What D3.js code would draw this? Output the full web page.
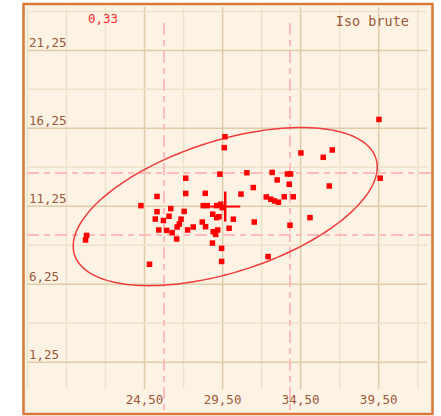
<!DOCTYPE html>
<html>
<head>
<meta charset="utf-8">
<script src="https://cdn.jsdelivr.net/npm/d3@7"></script>
<style>
  html, body { margin: 0; padding: 0; background: #ffffff; }
  svg { display: block; }
  .lbl text { font-family: "DejaVu Sans Mono", monospace; font-size: 12.5px; fill: #9a5a3a; }
</style>
</head>
<body>
<svg id="chart"></svg>
<script>
// scatter values (x, y)
const xs = [20.82, 20.75, 24.30, 24.85, 25.33, 25.33, 25.22, 25.74, 25.44, 26.21,
            26.10, 27.17, 27.17, 27.07, 26.87, 26.76, 26.62, 25.95, 26.30, 26.59,
            27.29, 27.65, 29.68, 29.64, 29.36, 31.09, 31.50, 28.42, 30.71, 28.29,
            28.55, 29.15, 29.41, 29.51, 28.90, 29.15, 29.30, 28.23, 28.44, 30.22,
            31.56, 29.95, 28.93, 29.22, 29.09, 28.88, 29.47, 29.47, 39.55, 34.55,
            36.56, 35.98, 32.71, 33.69, 33.89, 33.03, 33.80, 36.37, 39.63, 32.33,
            32.62, 32.86, 33.11, 33.48, 34.06, 35.13, 33.85, 32.45];
const ys = [9.35, 9.06, 11.26, 7.50, 11.85, 10.87, 10.40, 10.31, 9.70, 11.07,
            10.58, 13.02, 12.04, 10.89, 10.39, 10.08, 9.89, 9.67, 9.53, 9.12,
            9.70, 9.89, 15.68, 14.98, 13.28, 13.37, 12.42, 12.05, 12.00, 11.26,
            11.26, 11.26, 11.35, 11.13, 10.71, 10.49, 10.55, 10.21, 9.91, 10.39,
            10.21, 9.81, 9.59, 9.70, 9.42, 8.86, 8.52, 7.68, 16.79, 14.64,
            14.83, 14.36, 13.39, 13.29, 13.29, 12.91, 12.63, 12.52, 13.02, 11.82,
            11.67, 11.56, 11.48, 11.83, 11.83, 10.49, 10.00, 7.99];

const xTicks = [24.5, 29.5, 34.5, 39.5];
const yTicks = [1.25, 6.25, 11.25, 16.25, 21.25];
const xGrid = [17, 19.5, 22, 24.5, 27, 29.5, 32, 34.5, 37, 39.5, 42];
const yGrid = [1.25, 3.75, 6.25, 8.75, 11.25, 13.75, 16.25, 18.75, 21.25, 23.75];

const sdX = [25.78, 33.85];   // dashed lines
const sdY = [9.38, 13.35];
const center = [29.7, 11.2];  // mean point (cross + ellipse centre)
const ellipseHalf = [9.74, 5.07];
const ellipseCos = 0.5;
const corrText = "0,33";
const title = "Iso brute";

const width = 441, height = 416;
const svg = d3.select("#chart").attr("width", width).attr("height", height);

const x = d3.scaleLinear().domain([17, 42.5]).range([27, 425]);
const y = d3.scaleLinear().domain([-0.5, 24]).range([389, 7]);
const fmt = v => v.toFixed(2).replace(".", ",");

// frame
svg.append("rect").attr("x", 23.5).attr("y", 4).attr("width", 409).attr("height", 410)
  .attr("fill", "#fcf3e4").attr("stroke", "#d8793a").attr("stroke-width", 2.5);

// grid through axes
const gx = svg.append("g").attr("transform", `translate(0,${y.range()[0]})`)
  .call(d3.axisBottom(x).tickValues(xGrid).tickSize(-(y.range()[0] - y.range()[1])).tickFormat(""));
const gy = svg.append("g").attr("transform", `translate(${x.range()[0]},0)`)
  .call(d3.axisLeft(y).tickValues(yGrid).tickSize(-(427 - x.range()[0])).tickFormat(""));
[gx, gy].forEach(g => {
  g.select(".domain").remove();
  g.selectAll(".tick line").attr("stroke", "#efe2ca").attr("stroke-width", 1.5);
});
gx.selectAll(".tick line").filter(d => xTicks.includes(d)).attr("stroke", "#e0cca8");
gy.selectAll(".tick line").filter(d => yTicks.includes(d)).attr("stroke", "#e0cca8");

// dashed mean +/- sd lines
svg.append("g").selectAll("line").data(sdX).join("line")
  .attr("x1", d => x(d)).attr("x2", d => x(d)).attr("y1", 23).attr("y2", 414)
  .attr("stroke", "#ffbcbc").attr("stroke-width", 2).attr("stroke-dasharray", "12,5,6,5");
svg.append("g").selectAll("line").data(sdY).join("line")
  .attr("y1", d => y(d)).attr("y2", d => y(d)).attr("x1", 27).attr("x2", 432)
  .attr("stroke", "#ffbcbc").attr("stroke-width", 2).attr("stroke-dasharray", "12,5,6,5");

// labels
const lx = svg.append("g").attr("class", "lbl").attr("transform", "translate(0,395)")
  .call(d3.axisBottom(x).tickValues(xTicks).tickSize(0).tickPadding(0).tickFormat(fmt));
lx.select(".domain").remove();
const ly = svg.append("g").attr("class", "lbl").attr("transform", "translate(29,0)")
  .call(d3.axisRight(y).tickValues(yTicks).tickSize(0).tickPadding(0).tickFormat(fmt));
ly.select(".domain").remove();
ly.selectAll("text").attr("dy", "-0.25em").attr("text-anchor", "start");

svg.append("text").attr("x", 88).attr("y", 23).text(corrText)
  .attr("font-family", "DejaVu Sans Mono, monospace").attr("font-size", 12.5).attr("fill", "#ff2a2a");
svg.append("text").attr("x", 409).attr("y", 26).attr("text-anchor", "end").text(title)
  .attr("font-family", "DejaVu Sans Mono, monospace").attr("font-size", 13.5).attr("fill", "#9a5a3a");

// ellipse
const phi = Math.acos(ellipseCos);
const ts = d3.range(0, 2 * Math.PI + 0.001, Math.PI / 90);
svg.append("path")
  .datum(ts)
  .attr("d", d3.line()
    .x(t => x(center[0] + ellipseHalf[0] * Math.cos(t)))
    .y(t => y(center[1] + ellipseHalf[1] * Math.cos(t - phi))))
  .attr("fill", "none").attr("stroke", "#f03c3c").attr("stroke-width", 1.5);

// points
const pts = xs.map((v, i) => ({ x: v, y: ys[i] }));
svg.append("g").selectAll("rect").data(pts).join("rect")
  .attr("x", d => x(d.x) - 2.75).attr("y", d => y(d.y) - 2.75)
  .attr("width", 5.5).attr("height", 5.5).attr("fill", "#ff0000");

// centre cross
const cx = x(center[0]), cy = y(center[1]);
svg.append("line").attr("x1", cx - 15).attr("x2", cx + 15).attr("y1", cy).attr("y2", cy)
  .attr("stroke", "#ff0000").attr("stroke-width", 2);
svg.append("line").attr("x1", cx).attr("x2", cx).attr("y1", cy - 15).attr("y2", cy + 15)
  .attr("stroke", "#ff0000").attr("stroke-width", 2.5);
</script>
</body>
</html>
